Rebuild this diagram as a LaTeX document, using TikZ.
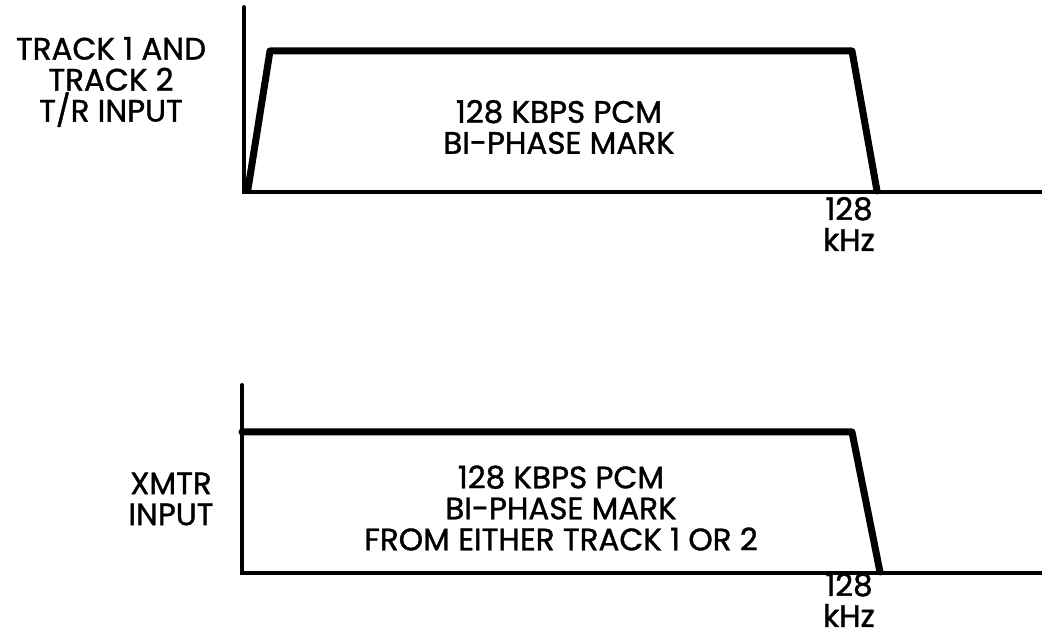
\documentclass[tikz,border=0pt]{standalone}
\usepackage{fontspec}
\setmainfont{Poppins}[FakeBold=1.2]
\usepackage{xcolor}
\usepackage{tikz}
\usetikzlibrary{positioning}
\tikzset{
  rotulo/.style={align=center,inner sep=0pt,font=\fontsize{31}{31}\selectfont},
  eixo/.style={line width=4pt,line cap=round},
  banda/.style={line width=7pt,line join=round,line cap=round}
}

\begin{document}
\begin{tikzpicture}[x=1pt,y=1pt]
\useasboundingbox (0,0) rectangle (1042,637);
% grafico de cima
\coordinate (o1) at (244,445);
\coordinate (y1) at (244,630);
\coordinate (x1) at (1042,445);
\coordinate (a1) at (248,448);
\coordinate (b1) at (270,586);
\coordinate (c1) at (852,586);
\coordinate (d1) at (877,446);
\draw[eixo] (y1) -- (o1) -- (x1);
\draw[banda] (a1) -- (b1) -- (c1) -- (d1);
\node[rotulo] (ent1) at (111,555) {TRACK 1 AND\\TRACK 2\\T/R INPUT};
\node[rotulo] (sinal1) at (559,510) {128 KBPS PCM\\BI-PHASE MARK};
\node[rotulo] (freq1) at (849,413) {128\\kHz};
% grafico de baixo
\coordinate (o2) at (242,64);
\coordinate (y2) at (242,252);
\coordinate (x2) at (1042,64);
\coordinate (b2) at (242,205);
\coordinate (c2) at (852,205);
\coordinate (d2) at (880,65);
\draw[eixo] (y2) -- (o2) -- (x2);
\draw[banda] (b2) -- (c2) -- (d2);
\node[rotulo] (ent2) at (171,138) {XMTR\\INPUT};
\node[rotulo] (sinal2) at (561,129) {128 KBPS PCM\\BI-PHASE MARK\\FROM EITHER TRACK 1 OR 2};
\node[rotulo] (freq2) at (849,37) {128\\kHz};
\end{tikzpicture}
\end{document}
